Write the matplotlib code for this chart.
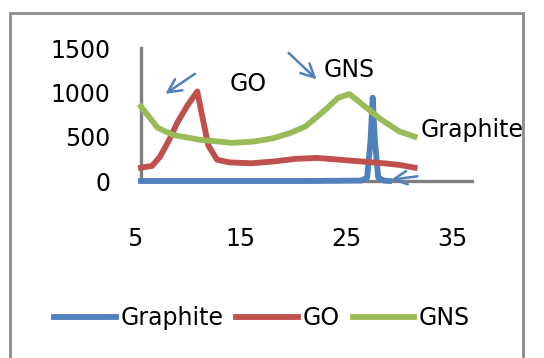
import matplotlib
matplotlib.use("Agg")
import matplotlib.pyplot as plt
import matplotlib.transforms as mtransforms
from matplotlib.patches import Rectangle

# values
graphite_x = [5, 10, 15, 20, 25, 25.5, 25.8, 26.0, 26.2, 26.5, 27.0, 27.5]
graphite_y = [0, 0, 0, 0, 5, 40, 450, 940, 450, 40, 5, 0]

go_x = [5, 6, 6.7, 7.5, 8.3, 9.2, 10.1, 10.6, 11.1, 11.9, 13, 15, 17, 19, 21, 23, 25, 27, 28.5, 29.8]
go_y = [150, 170, 270, 450, 660, 850, 1010, 700, 400, 240, 210, 200, 220, 250, 260, 240, 220, 200, 180, 150]

gns_x = [5, 6.5, 7.9, 10.3, 13.3, 15.2, 16.9, 18.5, 19.9, 21.4, 22.9, 23.9, 25.3, 26.8, 28.4, 29.8]
gns_y = [840, 600, 520, 465, 430, 445, 480, 540, 615, 770, 940, 980, 840, 690, 560, 500]

x_ticks = [5, 15, 25, 35]
y_ticks = [0, 500, 1000, 1500]

plt.rcParams['font.family'] = ['DejaVu Sans']
plt.rcParams['font.size'] = 17

fig = plt.figure(figsize=(5.44, 3.58), dpi=100)
ax = fig.add_axes([141 / 544, 1 - 181 / 358, (472 - 141) / 544, (181 - 48) / 358])

# outer chart border
fig.patches.append(Rectangle((10 / 544, -0.05), 513 / 544, 1 - 13 / 358 + 0.05,
                             transform=fig.transFigure, fill=False,
                             edgecolor='#8c8c8c', linewidth=2))

lw = 4.2
ax.plot(graphite_x, graphite_y, color='#4F81BD', lw=lw, label='Graphite', clip_on=False, zorder=3)
ax.plot(go_x, go_y, color='#C0504D', lw=lw, label='GO', clip_on=False, zorder=4)
ax.plot(gns_x, gns_y, color='#9BBB59', lw=lw, label='GNS', clip_on=False, zorder=5)

ax.set_xlim(5, 35)
ax.set_ylim(0, 1500)
ax.set_xticks(x_ticks)
ax.set_yticks(y_ticks)
ax.tick_params(length=0)
ax.tick_params(axis='x', pad=33)
ax.tick_params(axis='y', pad=22)

# the x labels in the original sit a bit left of their ticks
for t, lab in zip(x_ticks, ax.get_xticklabels()):
    shift = -(6 + (t - 5) * 0.47) / 100
    lab.set_transform(lab.get_transform() + mtransforms.ScaledTranslation(shift, 0, fig.dpi_scale_trans))

for s in ['top', 'right']:
    ax.spines[s].set_visible(False)
for s in ['left', 'bottom']:
    ax.spines[s].set_color('#7f7f7f')
    ax.spines[s].set_linewidth(2.4)

# hand-drawn style annotations
arrow = dict(arrowstyle='->', color='#4F81BD', lw=1.8, mutation_scale=24)
ax.annotate('', xy=(7.0, 966), xytext=(10.1, 1227), arrowprops=arrow, annotation_clip=False)
ax.annotate('', xy=(21.1, 1125), xytext=(18.2, 1466), arrowprops=arrow, annotation_clip=False)
ax.annotate('', xy=(27.4, 10), xytext=(30.3, 57), arrowprops=arrow, annotation_clip=False)

ax.text(14.7, 1090, 'GO', ha='center', va='center', clip_on=False)
ax.text(23.9, 1250, 'GNS', ha='center', va='center', clip_on=False)
ax.text(30.3, 580, 'Graphite', ha='left', va='center', clip_on=False)

fig.legend(loc='center', bbox_to_anchor=(262 / 544, 0.112), ncol=3, frameon=False,
           handlelength=2.6, handletextpad=0.2, columnspacing=0.55, borderaxespad=0)

fig.savefig('out.png', dpi=100)
